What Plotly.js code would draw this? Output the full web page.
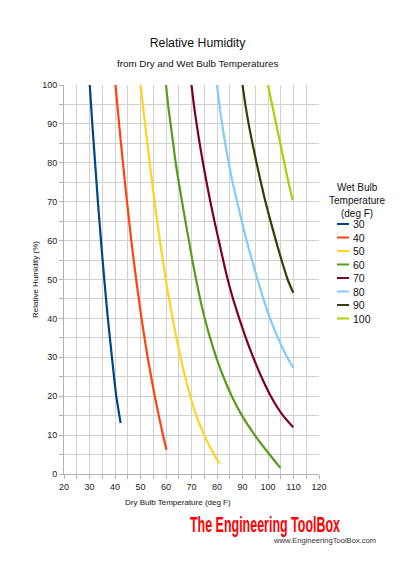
<!DOCTYPE html>
<html>
<head>
<meta charset="utf-8">
<script src="https://cdn.plot.ly/plotly-3.0.1.min.js"></script>
<style>
  html, body { margin: 0; padding: 0; background: #ffffff; }
  #wrap { position: relative; width: 400px; height: 566px; overflow: hidden; }
  #chart { position: absolute; left: 0; top: 0; width: 400px; height: 566px; }
  #brand { position: absolute; left: 190px; top: 512px; white-space: nowrap;
           font-family: "Liberation Sans Narrow", "Liberation Sans", Arial, sans-serif;
           font-weight: bold; font-size: 22px; color: #ff0000; line-height: 26px;
           transform-origin: 0 0; }
  #site { position: absolute; left: 274px; top: 536px; white-space: nowrap;
          font-family: "Liberation Sans", Arial, sans-serif; font-size: 7.6px; color: #333333; }
</style>
</head>
<body>
<div id="wrap">
  <div id="chart"></div>
  <div id="brand">The Engineering ToolBox</div>
  <div id="site">www.EngineeringToolBox.com</div>
</div>
<script>
// Relative humidity (%) against dry bulb temperature (deg F), one curve per wet bulb temperature
const wetBulbNames = ['30', '40', '50', '60', '70', '80', '90', '100'];
const seriesColors = ['#004586', '#ff420e', '#ffd320', '#579d1c', '#7e0021', '#83caff', '#314004', '#aecf00'];

const wb30_T  = [30.1, 31.1, 32.2, 33.3, 34.5, 35.8, 37.2, 38.8, 40.5, 42.2];
const wb30_RH = [100, 90, 80, 70, 60, 50, 40, 30, 20, 13.1];

const wb40_T  = [40.2, 41.6, 43.1, 44.7, 46.4, 48.3, 50.4, 52.8, 55.6, 58.8, 60.2];
const wb40_RH = [100, 90, 80, 70, 60, 50, 40, 30, 20, 10, 6.2];

const wb50_T  = [50.0, 51.8, 53.6, 55.5, 57.6, 59.9, 62.6, 65.7, 69.5, 71.9, 75.0, 78.8, 81.0];
const wb50_RH = [100, 90, 80, 70, 60, 50, 40, 30, 20, 15, 10, 5, 2.7];

const wb60_T  = [60.0, 60.8, 61.8, 62.8, 63.8, 65.0, 66.3, 67.6, 69.0, 70.3, 71.8, 73.4, 75.2, 77.3, 79.7, 82.5, 85.8, 89.8, 94.8, 100.6, 104.9];
const wb60_RH = [100, 95, 90, 85, 80, 75, 70, 65, 60, 55, 50, 45, 40, 35, 30, 25, 20, 15, 10, 5, 1.5];

const wb70_T  = [70.0, 70.9, 72.0, 73.2, 74.5, 75.9, 77.4, 79.0, 80.7, 82.4, 84.2, 86.3, 88.7, 91.3, 94.2, 97.4, 101.1, 105.9, 109.9];
const wb70_RH = [100, 95, 90, 85, 80, 75, 70, 65, 60, 55, 50, 45, 40, 35, 30, 25, 20, 15, 12];

const wb80_T  = [80.0, 80.9, 82.0, 83.2, 84.6, 86.1, 87.9, 89.7, 91.6, 93.7, 95.9, 98.2, 100.8, 103.9, 107.5, 109.9];
const wb80_RH = [100, 95, 90, 85, 80, 75, 70, 65, 60, 55, 50, 45, 40, 35, 30, 27.3];

const wb90_T  = [90.0, 91.1, 92.4, 93.9, 95.5, 97.2, 99.0, 101.0, 103.1, 105.3, 107.7, 109.9];
const wb90_RH = [100, 95, 90, 85, 80, 75, 70, 65, 60, 55, 50, 46.6];

const wb100_T  = [100.0, 101.6, 103.2, 104.8, 106.4, 108.0, 109.7];
const wb100_RH = [100, 95, 90, 85, 80, 75, 70.4];

const dryBulb = [wb30_T, wb40_T, wb50_T, wb60_T, wb70_T, wb80_T, wb90_T, wb100_T];
const humidity = [wb30_RH, wb40_RH, wb50_RH, wb60_RH, wb70_RH, wb80_RH, wb90_RH, wb100_RH];

const xTickVals = [20, 30, 40, 50, 60, 70, 80, 90, 100, 110, 120];
const yTickVals = [0, 10, 20, 30, 40, 50, 60, 70, 80, 90, 100];

// page geometry
const W = 400, H = 566;
const M = { l: 64, r: 81, t: 85, b: 92 };
const plotW = W - M.l - M.r, plotH = H - M.t - M.b;
const px = x => (x - M.l) / plotW;          // page x -> paper x
const py = y => (H - M.b - y) / plotH;      // page y -> paper y

const traces = wetBulbNames.map((name, i) => ({
  type: 'scatter',
  mode: 'lines',
  name: name,
  x: dryBulb[i],
  y: humidity[i],
  line: { color: seriesColors[i], width: 2.2, shape: 'spline', smoothing: 0.5 },
  showlegend: false,
  hoverinfo: 'skip'
}));

const baseFont = 'Liberation Sans, Arial, sans-serif';
const gridCol = '#d0d0d0';
const axisCol = '#b3b3b3';

const annotations = [
  { text: 'from Dry and Wet Bulb Temperatures', x: px(197), y: py(63), xref: 'paper', yref: 'paper',
    showarrow: false, xanchor: 'center', yanchor: 'middle', font: { family: baseFont, size: 9.8, color: '#111' } },
  { text: 'Relative Humidity (%)', x: px(35), y: py(280), xref: 'paper', yref: 'paper', textangle: -90,
    showarrow: false, xanchor: 'center', yanchor: 'middle', font: { family: baseFont, size: 8, color: '#111' } },
  { text: 'Dry Bulb Temperature (deg F)', x: px(178), y: py(502), xref: 'paper', yref: 'paper',
    showarrow: false, xanchor: 'center', yanchor: 'middle', font: { family: baseFont, size: 8, color: '#111' } },
  { text: 'Wet Bulb<br>Temperature<br>(deg F)', x: px(357), y: py(200), xref: 'paper', yref: 'paper',
    showarrow: false, xanchor: 'center', yanchor: 'middle', align: 'center',
    font: { family: baseFont, size: 10, color: '#111' } }
];

// legend key: a short line and a label for every series
const shapes = [];
const keyTop = 224, keyStep = 13.5;
wetBulbNames.forEach((name, i) => {
  const yy = keyTop + i * keyStep;
  shapes.push({ type: 'line', xref: 'paper', yref: 'paper', x0: px(337), x1: px(349), y0: py(yy), y1: py(yy),
                line: { color: seriesColors[i], width: 2 } });
  annotations.push({ text: name, x: px(351), y: py(yy), xref: 'paper', yref: 'paper', showarrow: false,
                     xanchor: 'left', yanchor: 'middle', font: { family: baseFont, size: 10.5, color: '#111' } });
});

const axisCommon = {
  showgrid: true, gridcolor: gridCol, gridwidth: 1,
  zeroline: false, showline: true, linecolor: axisCol, linewidth: 1,
  ticks: 'outside', ticklen: 4, tickcolor: axisCol,
  tickfont: { family: baseFont, size: 9, color: '#222' },
  minor: { dtick: 5, showgrid: true, gridcolor: gridCol, gridwidth: 1, ticks: 'outside', ticklen: 4, tickcolor: axisCol },
  fixedrange: true
};

const layout = {
  width: W, height: H,
  margin: M,
  paper_bgcolor: '#ffffff', plot_bgcolor: '#ffffff',
  showlegend: false,
  title: { text: 'Relative Humidity', x: 197.5 / W, y: 1 - 43 / H, xref: 'container', yref: 'container',
           xanchor: 'center', yanchor: 'middle', font: { family: baseFont, size: 12.3, color: '#111' } },
  xaxis: Object.assign({}, axisCommon, { range: [20, 120], tickmode: 'array', tickvals: xTickVals, ticktext: xTickVals.map(String) }),
  yaxis: Object.assign({}, axisCommon, { range: [0, 100], tickmode: 'array', tickvals: yTickVals, ticktext: yTickVals.map(String) }),
  annotations: annotations,
  shapes: shapes
};

Plotly.newPlot('chart', traces, layout, { staticPlot: true, displayModeBar: false }).then(() => {
  // squeeze the brand line to its condensed width
  const brand = document.getElementById('brand');
  const w = brand.getBoundingClientRect().width;
  brand.style.transform = 'scale(' + (150 / w) + ', 1)';
});
</script>
</body>
</html>
